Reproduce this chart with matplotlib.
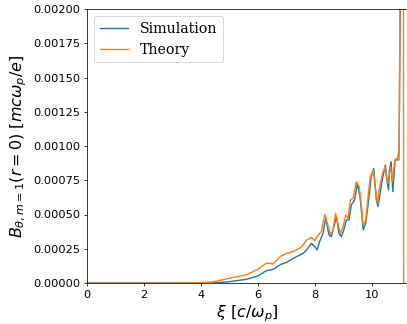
import numpy as np
import matplotlib
matplotlib.use('Agg')
import matplotlib.pyplot as plt
from matplotlib.ticker import MultipleLocator, FormatStrFormatter

# --- datos ---
xi_teo = [0.0, 3.0, 3.6, 4.0, 4.43, 5.02, 5.6, 6.0, 6.3, 6.54, 6.8, 7.0, 7.24,
          7.47, 7.59, 7.71, 7.88, 8.0, 8.12, 8.23, 8.35, 8.47, 8.55, 8.64, 8.73,
          8.82, 8.90, 8.99, 9.09, 9.17, 9.25, 9.34, 9.46, 9.56, 9.64, 9.70,
          9.79, 9.87, 9.95, 10.05, 10.14, 10.20, 10.28, 10.38, 10.46, 10.52,
          10.57, 10.66, 10.73, 10.81, 10.89, 10.96, 11.0, 11.11, 11.12]
b_teo = [0.0, 0.0, 0.0, 0.000002, 0.000008, 0.000036, 0.00006, 0.0001, 0.000145,
         0.00014, 0.000195, 0.000215, 0.00023,
         0.000253, 0.000277, 0.000314, 0.000333, 0.000309, 0.00035, 0.000375,
         0.000501, 0.000411, 0.00035, 0.000387, 0.000509, 0.000423, 0.000363,
         0.000411, 0.000496, 0.000472, 0.000606, 0.000618, 0.00074, 0.000703,
         0.000557, 0.000423, 0.00046, 0.00063, 0.000776, 0.000825, 0.000667,
         0.000582, 0.000703, 0.000801, 0.000849, 0.000776, 0.000728, 0.000849,
         0.00074, 0.000898, 0.00091, 0.000898, 0.0025, 0.0025, 0.0]

xi_sim = [0.0, 4.0, 4.43, 5.02, 5.6, 6.0, 6.3, 6.54, 6.8, 7.0, 7.24,
          7.47, 7.59, 7.71, 7.88, 8.0, 8.08, 8.17, 8.29, 8.38, 8.50, 8.58, 8.67,
          8.76, 8.85, 8.93, 9.02, 9.11, 9.20, 9.28, 9.40, 9.49, 9.59, 9.70,
          9.79, 9.89, 9.98, 10.07, 10.16, 10.22, 10.31, 10.39, 10.48, 10.53,
          10.59, 10.62, 10.68, 10.74, 10.82, 10.91, 10.96, 11.02, 11.08]
b_sim = [0.0, 0.0, 0.0, 0.00001, 0.000027, 0.000051, 0.00009, 0.0001, 0.000135,
         0.00015, 0.00018,
         0.000204, 0.000217, 0.000241, 0.00029, 0.000265, 0.000241, 0.000302,
         0.000363, 0.000472, 0.00035, 0.000338, 0.000411, 0.000484, 0.000363,
         0.000338, 0.000387, 0.00046, 0.00046, 0.000569, 0.000606, 0.000728,
         0.00063, 0.000387, 0.000436, 0.000606, 0.000776, 0.000837, 0.000606,
         0.000557, 0.000679, 0.000776, 0.000861, 0.000752, 0.000679, 0.000825,
         0.000886, 0.000667, 0.000898, 0.000898, 0.000983, 0.0025, 0.0025]

# --- figura ---
fig = plt.figure(figsize=(407 / 68, 324 / 68), dpi=68)
ax = fig.add_axes([87 / 407, 1 - 283 / 324, 319.5 / 407, 274 / 324])

ax.plot(xi_sim, b_sim, color='#1f77b4', label='Simulation')
ax.plot(xi_teo, b_teo, color='#ff7f0e', label='Theory')

ax.set_xlim(0, 11.22)
ax.set_ylim(0, 0.002)
ax.yaxis.set_major_locator(MultipleLocator(0.00025))
ax.yaxis.set_major_formatter(FormatStrFormatter('%.5f'))
ax.tick_params(labelsize=12)

ax.set_xlabel(r'$\xi\ [c/\omega_p]$', fontsize=17)
ax.set_ylabel(r'$B_{\theta,m=1}(r=0)\ [mc\omega_p/e]$', fontsize=17)
ax.legend(loc='upper left', prop={'family': 'DejaVu Serif', 'size': 15})

plt.savefig('out.png', dpi=68)
